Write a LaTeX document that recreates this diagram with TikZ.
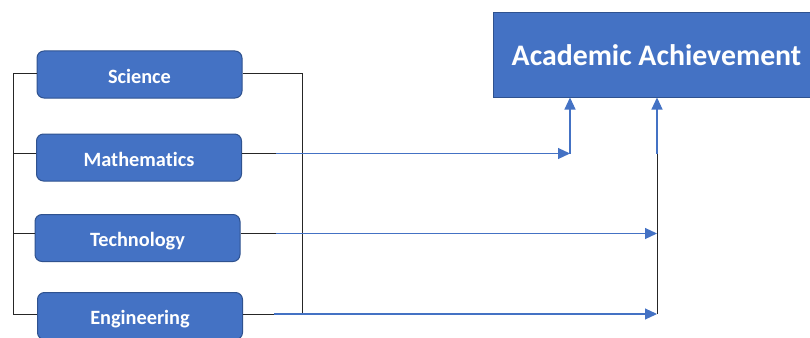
\documentclass[tikz,border=0pt]{standalone}
\usepackage{fontspec}
\setmainfont{Carlito}[Ligatures=CommonOff]
\usetikzlibrary{arrows.meta,calc}
\definecolor{boxblue}{HTML}{4472C4}
\definecolor{boxborder}{HTML}{2F528F}
\definecolor{arrblue}{HTML}{4472C4}
\begin{document}
\begin{tikzpicture}[x=1pt,y=-1pt,
  subj/.style={draw=boxborder, line width=1pt, fill=boxblue, rounded corners=7pt,
    minimum width=205pt, minimum height=47pt, text=white, inner sep=0pt,
    text height=17pt, text depth=0pt,
    font=\bfseries\fontsize{20.3}{22}\selectfont},
  goal/.style={draw=boxborder, line width=1pt, fill=boxblue,
    minimum width=327pt, minimum height=84pt, text=white, inner sep=0pt,
    text height=21pt, text depth=0pt,
    font=\bfseries\fontsize{29.8}{32}\selectfont},
  blk/.style={draw=black!85, line width=0.8pt},
  blu/.style={draw=arrblue, line width=1.1pt},
  arr/.style={blu, -{Triangle[length=12pt,width=11pt]}}]
\useasboundingbox (0,0) rectangle (810,337);
% boxes
\node[subj] (sci) at (139.5,74.5) {Science};
\node[subj] (math) at (139,157.5) {Mathematics};
\node[subj] (tech) at (137.5,238) {Technology};
\node[subj] (eng) at (140,316) {Engineering};
\node[goal] (aa) at (656.5,55) {Academic Achievement};
% left bracket
\coordinate (ls) at (13,73);
\coordinate (lm) at (13,153.5);
\coordinate (lt) at (13,233.5);
\coordinate (le) at (13,314);
\draw[blk] (ls) -- (le);
\draw[blk] (ls) -- (ls -| sci.west);
\draw[blk] (lm) -- (lm -| math.west);
\draw[blk] (lt) -- (lt -| tech.west);
\draw[blk] (le) -- (le -| eng.west);
% right bracket
\coordinate (rs) at (302,73);
\coordinate (re) at (302,314);
\draw[blk] (rs) -- (re);
\draw[blk] (sci.east |- rs) -- (rs);
% arrow columns
\coordinate (ka) at (570,153.5);
\coordinate (kb) at (657,233.5);
\coordinate (kc) at (657,314);
\coordinate (kd) at (657,153.5);
\coordinate (ma) at (276,153.5);
\coordinate (ta) at (276,233.5);
\coordinate (ea) at (274,314);
% mathematics
\draw[blk] (ka -| math.east) -- (ka);
\draw[arr] (ma) -- (ka);
\draw[arr] (ka) -- (ka |- aa.south);
% technology
\draw[blk] (tech.east |- kb) -- (ta);
\draw[arr] (ta) -- (kb);
% engineering
\draw[blk] (eng.east |- kc) -- (ea);
\draw[arr] (ea) -- (kc);
% vertical to goal
\draw[blk] (kc) -- (kd);
\draw[arr] (kd) -- (kd |- aa.south);
\end{tikzpicture}
\end{document}
